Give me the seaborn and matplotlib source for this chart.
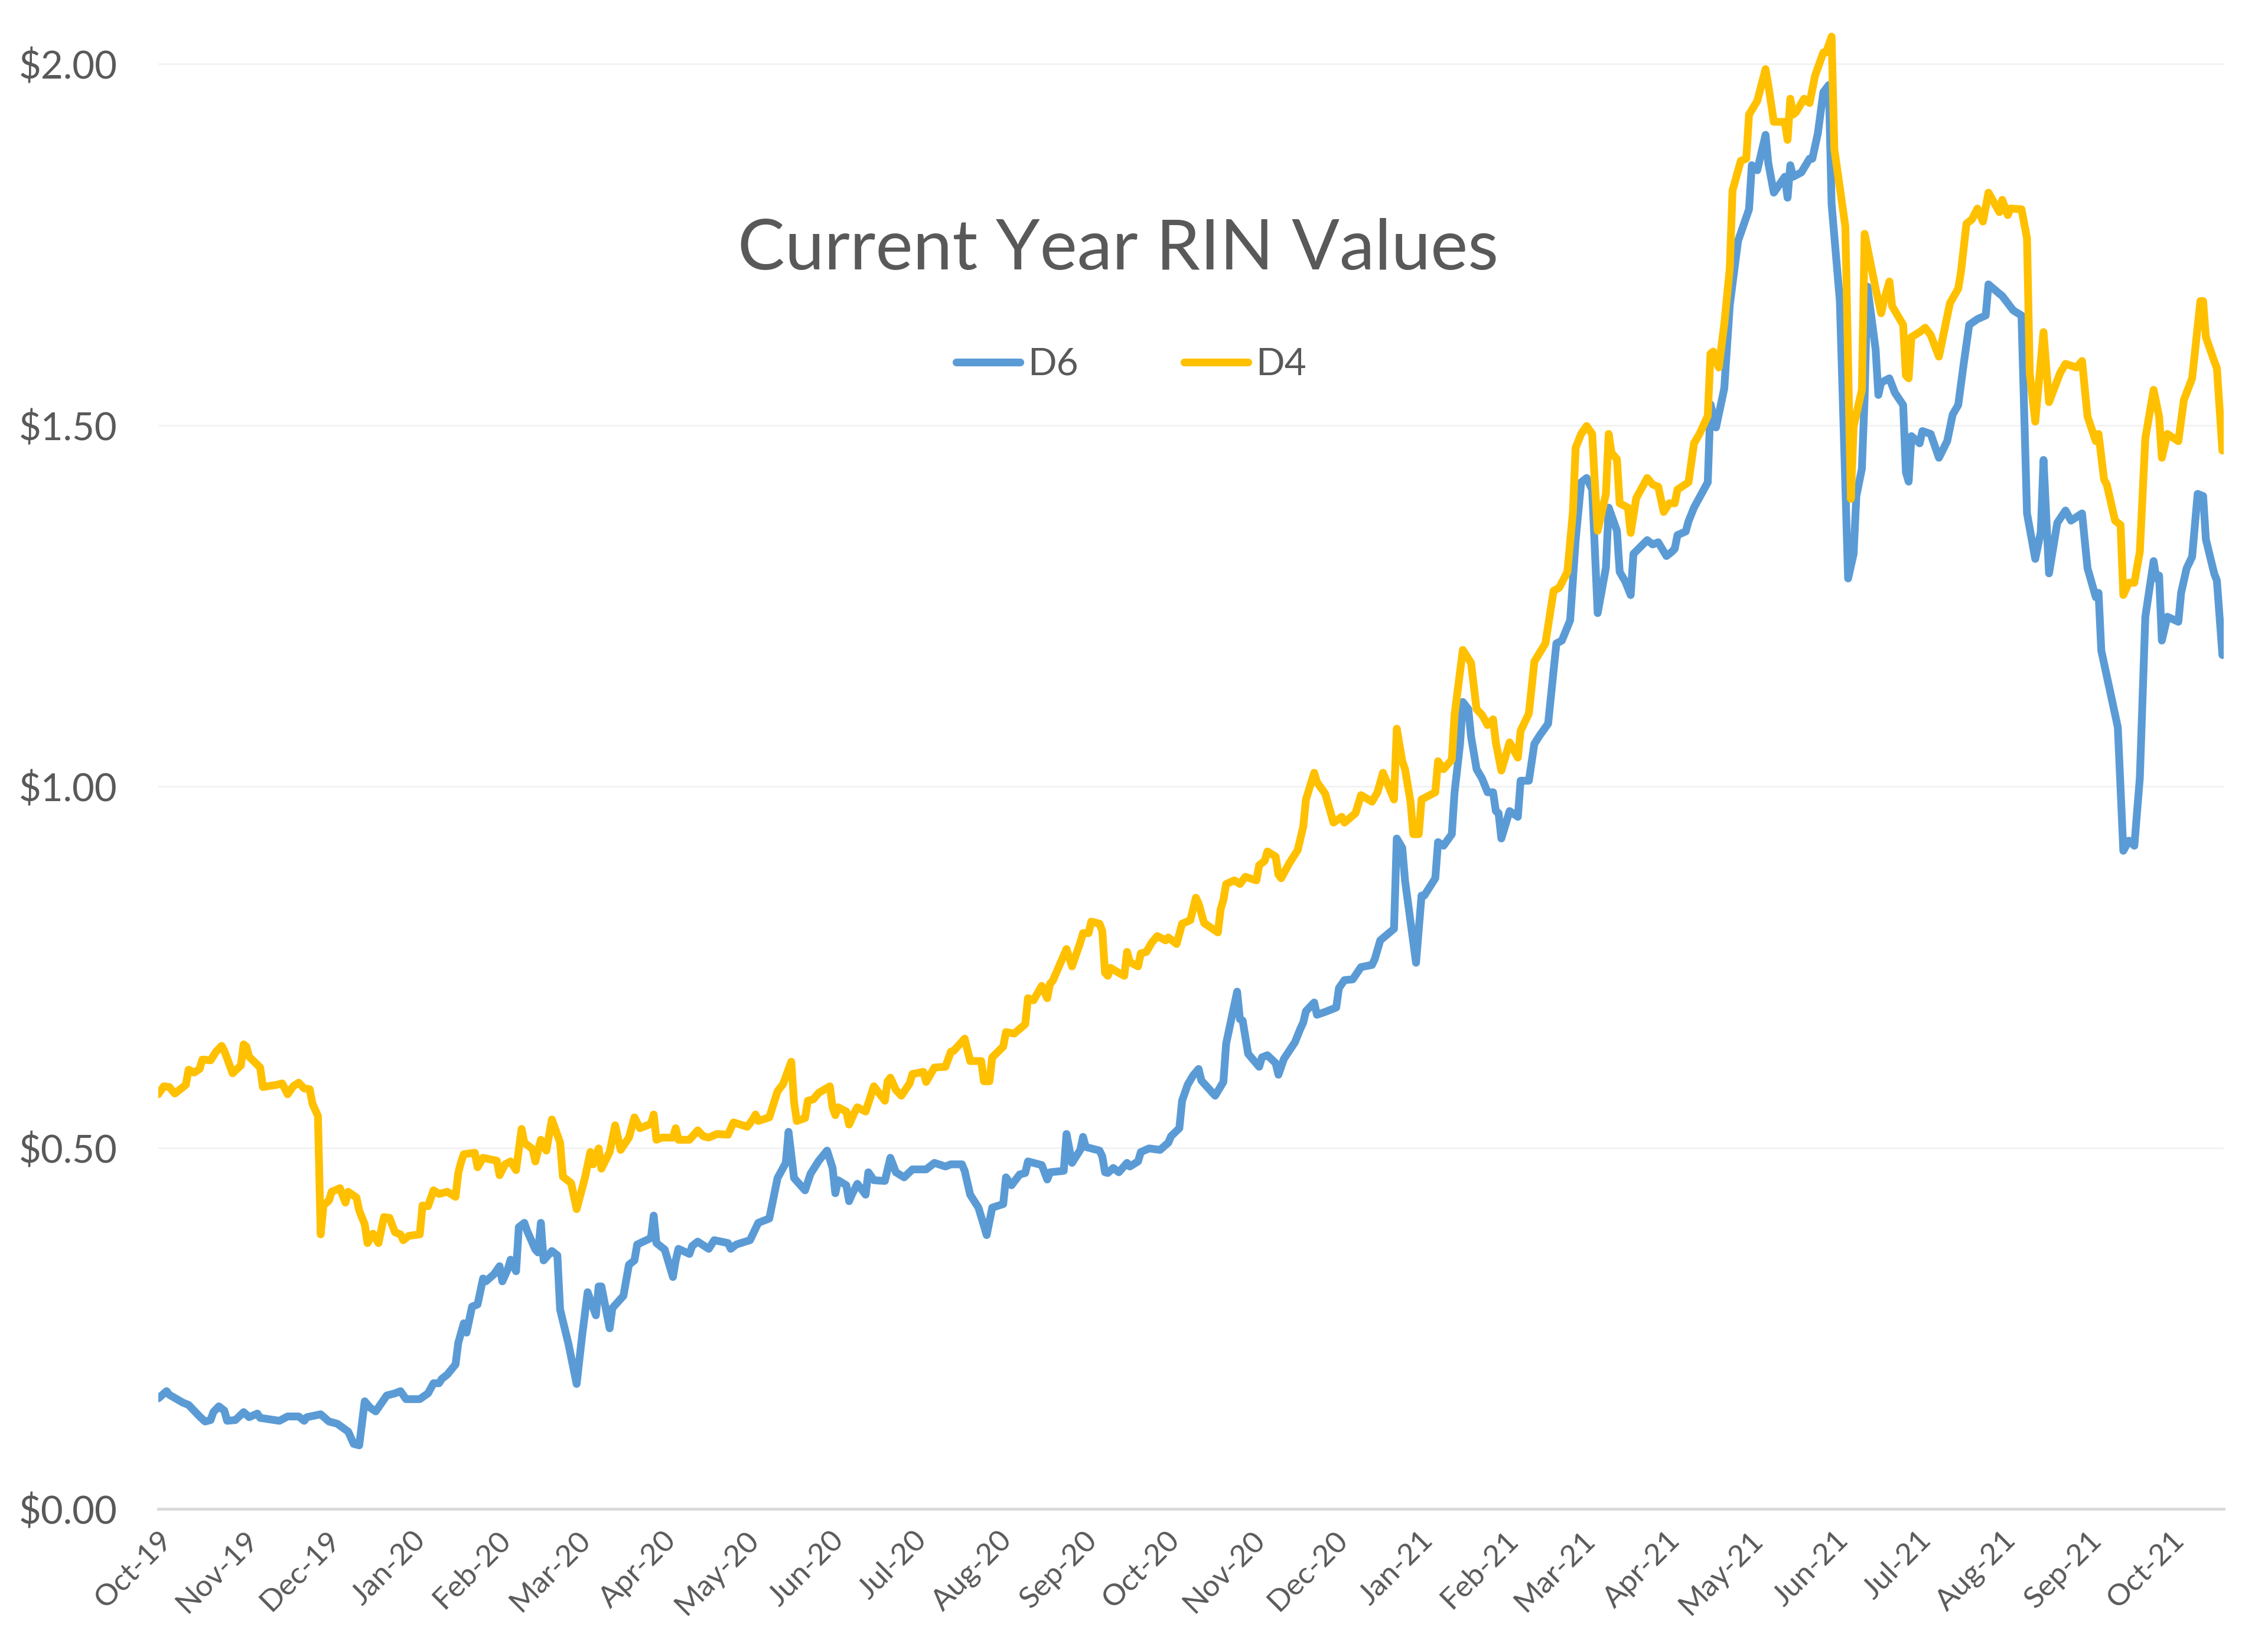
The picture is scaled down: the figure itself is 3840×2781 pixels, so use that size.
import pandas as pd
import seaborn as sns
import matplotlib
matplotlib.use('Agg')
import matplotlib.pyplot as plt
import matplotlib.dates as mdates
from matplotlib.ticker import FuncFormatter

# days counted from 1 Oct 2019, values in $ per RIN
start = pd.Timestamp('2019-10-01')

d6_days = [0, 3, 4, 9, 11, 13, 15, 17, 19, 20, 22, 24, 25, 28, 31, 33, 36, 37, 44, 47,
           51, 53, 54, 59, 62, 65, 69, 71, 73, 75, 77, 79, 83, 86, 88, 90, 95, 98, 100, 102,
           103, 105, 108, 109, 111, 112, 114, 116, 118, 119, 122, 124, 125, 127, 128, 130, 131, 133, 134, 137,
           138, 139, 140, 143, 145, 146, 149, 152, 154, 156, 159, 160, 161, 164, 165, 169, 171, 173, 174, 179,
           180, 181, 184, 187, 188, 189, 193, 194, 196, 200, 202, 207, 208, 210, 215, 218, 222, 225, 228, 229,
           231, 235, 237, 240, 243, 245, 246, 247, 250, 251, 252, 254, 257, 258, 260, 264, 266, 268, 271, 274,
           279, 282, 286, 288, 292, 293, 295, 298, 300, 301, 303, 307, 308, 310, 313, 315, 316, 321, 323, 324,
           329, 330, 332, 335, 336, 337, 342, 343, 344, 345, 347, 349, 352, 353, 356, 357, 360, 364, 367, 368,
           371, 372, 374, 376, 378, 379, 384, 387, 388, 392, 393, 394, 396, 400, 401, 403, 406, 407, 409, 413,
           415, 416, 417, 420, 421, 424, 428, 429, 431, 434, 437, 441, 442, 444, 449, 450, 452, 453, 457, 459,
           460, 464, 465, 467, 470, 471, 473, 474, 476, 477, 479, 481, 483, 485, 486, 487, 488, 491, 494, 495,
           498, 500, 502, 505, 508, 510, 513, 515, 517, 519, 521, 523, 526, 527, 530, 531, 533, 535, 536, 541,
           543, 545, 548, 550, 551, 552, 555, 556, 558, 563, 564, 566, 569, 571, 574, 578, 579, 581, 584, 585,
           587, 591, 592, 593, 594, 597, 600, 601, 603, 605, 607, 608, 611, 614, 616, 617, 619, 620, 621, 624,
           625, 626, 629, 631, 634, 635, 636, 637, 640, 641, 644, 647, 650, 652, 654, 656, 658, 661, 664, 665,
           669, 670, 674, 677, 679, 682, 684, 685, 687, 690, 693, 695, 699, 701, 704, 705, 706, 712, 714, 716,
           718, 720, 722, 725, 726, 727, 728, 730, 734, 735, 737, 739, 741, 743, 744, 747, 748, 750]
d6_vals = [0.153, 0.163, 0.158, 0.147, 0.144, 0.136, 0.128, 0.121, 0.123, 0.134, 0.142, 0.136, 0.122, 0.123, 0.134, 0.127, 0.132, 0.126, 0.122, 0.128,
           0.128, 0.122, 0.127, 0.131, 0.121, 0.118, 0.107, 0.090, 0.088, 0.149, 0.140, 0.135, 0.157, 0.160, 0.163, 0.152, 0.152, 0.160, 0.174, 0.174,
           0.180, 0.186, 0.200, 0.230, 0.257, 0.244, 0.280, 0.283, 0.319, 0.315, 0.325, 0.336, 0.315, 0.332, 0.345, 0.329, 0.390, 0.396, 0.385, 0.359,
           0.355, 0.396, 0.344, 0.357, 0.351, 0.276, 0.229, 0.173, 0.240, 0.300, 0.268, 0.308, 0.308, 0.250, 0.278, 0.295, 0.338, 0.344, 0.366, 0.375,
           0.406, 0.368, 0.359, 0.321, 0.344, 0.360, 0.353, 0.364, 0.370, 0.360, 0.372, 0.368, 0.360, 0.366, 0.372, 0.396, 0.402, 0.458, 0.479, 0.522,
           0.458, 0.441, 0.464, 0.482, 0.496, 0.472, 0.437, 0.455, 0.448, 0.426, 0.435, 0.450, 0.435, 0.466, 0.455, 0.454, 0.486, 0.466, 0.459, 0.470,
           0.470, 0.479, 0.474, 0.477, 0.477, 0.468, 0.435, 0.417, 0.392, 0.379, 0.417, 0.422, 0.459, 0.448, 0.463, 0.465, 0.481, 0.476, 0.456, 0.466,
           0.468, 0.519, 0.479, 0.497, 0.515, 0.501, 0.496, 0.488, 0.466, 0.465, 0.472, 0.466, 0.479, 0.474, 0.481, 0.494, 0.499, 0.497, 0.507, 0.516,
           0.527, 0.565, 0.587, 0.600, 0.609, 0.593, 0.572, 0.591, 0.644, 0.716, 0.678, 0.676, 0.630, 0.612, 0.625, 0.628, 0.617, 0.601, 0.623, 0.646,
           0.665, 0.673, 0.689, 0.701, 0.684, 0.688, 0.694, 0.721, 0.732, 0.733, 0.750, 0.753, 0.761, 0.787, 0.803, 0.928, 0.915, 0.870, 0.756, 0.849,
           0.849, 0.873, 0.923, 0.918, 0.934, 0.992, 1.059, 1.117, 1.107, 1.069, 1.024, 1.011, 0.992, 0.992, 0.966, 0.963, 0.928, 0.966, 0.958, 1.008,
           1.008, 1.059, 1.071, 1.087, 1.198, 1.202, 1.230, 1.341, 1.421, 1.427, 1.411, 1.240, 1.303, 1.386, 1.354, 1.297, 1.284, 1.265, 1.322, 1.341,
           1.335, 1.338, 1.319, 1.325, 1.329, 1.348, 1.353, 1.367, 1.386, 1.421, 1.529, 1.497, 1.551, 1.666, 1.755, 1.799, 1.860, 1.853, 1.902, 1.863,
           1.822, 1.844, 1.815, 1.860, 1.844, 1.850, 1.869, 1.869, 1.904, 1.961, 1.971, 1.806, 1.672, 1.288, 1.322, 1.402, 1.440, 1.539, 1.692, 1.605,
           1.542, 1.559, 1.565, 1.545, 1.528, 1.435, 1.422, 1.485, 1.475, 1.492, 1.488, 1.455, 1.478, 1.515, 1.528, 1.585, 1.639, 1.647, 1.652, 1.695,
           1.682, 1.679, 1.659, 1.652, 1.378, 1.315, 1.352, 1.452, 1.295, 1.365, 1.382, 1.368, 1.378, 1.302, 1.262, 1.268, 1.188, 1.082, 0.911, 0.925,
           0.918, 1.012, 1.235, 1.312, 1.288, 1.292, 1.202, 1.235, 1.228, 1.268, 1.302, 1.318, 1.405, 1.402, 1.342, 1.295, 1.285, 1.182]

d4_days = [0, 2, 4, 6, 10, 11, 13, 15, 16, 19, 21, 23, 24, 27, 30, 31, 32, 33, 37, 38,
           43, 45, 47, 49, 51, 53, 55, 56, 58, 59, 60, 62, 63, 66, 68, 69, 72, 73, 75, 76,
           78, 80, 82, 84, 86, 88, 89, 91, 95, 96, 98, 100, 102, 105, 108, 109, 110, 111, 115, 116,
           118, 123, 124, 126, 128, 130, 132, 133, 136, 137, 139, 141, 143, 146, 147, 150, 152, 155, 157, 158,
           160, 161, 164, 166, 168, 171, 173, 175, 179, 180, 181, 183, 187, 188, 189, 193, 196, 198, 200, 203,
           207, 209, 214, 216, 217, 218, 222, 225, 227, 230, 231, 232, 235, 236, 238, 240, 244, 245, 246, 247,
           250, 251, 253, 254, 257, 260, 264, 265, 266, 268, 270, 273, 274, 278, 279, 282, 286, 288, 289, 293,
           295, 299, 300, 302, 303, 307, 308, 311, 315, 316, 318, 321, 323, 324, 325, 330, 332, 335, 336, 338,
           339, 342, 343, 344, 345, 346, 349, 351, 352, 353, 356, 357, 359, 361, 363, 366, 367, 370, 372, 375,
           377, 378, 380, 385, 386, 387, 388, 391, 393, 395, 399, 400, 402, 403, 406, 407, 408, 411, 414, 416,
           417, 420, 421, 424, 427, 430, 431, 435, 437, 441, 443, 445, 449, 450, 452, 453, 455, 456, 458, 459,
           464, 465, 467, 470, 471, 474, 477, 479, 481, 483, 485, 486, 488, 491, 494, 495, 498, 500, 504, 507,
           509, 512, 514, 515, 517, 519, 521, 522, 523, 526, 527, 528, 530, 531, 534, 535, 537, 541, 543, 545,
           547, 549, 551, 552, 556, 558, 560, 563, 564, 565, 567, 569, 571, 572, 575, 577, 578, 581, 584, 585,
           587, 591, 592, 593, 594, 595, 598, 600, 602, 605, 606, 608, 609, 613, 615, 616, 619, 620, 624, 626,
           627, 629, 630, 634, 635, 636, 637, 640, 642, 644, 647, 651, 654, 655, 657, 659, 661, 663, 665, 669,
           670, 672, 673, 677, 679, 680, 682, 685, 687, 691, 693, 697, 699, 701, 704, 705, 707, 708, 711, 713,
           714, 716, 718, 720, 722, 725, 727, 728, 730, 734, 736, 739, 742, 743, 744, 747, 748, 750]
d4_vals = [0.574, 0.585, 0.584, 0.575, 0.587, 0.608, 0.604, 0.609, 0.622, 0.621, 0.633, 0.641, 0.634, 0.603, 0.614, 0.643, 0.640, 0.626, 0.611, 0.584,
           0.587, 0.589, 0.574, 0.585, 0.590, 0.582, 0.581, 0.561, 0.544, 0.380, 0.420, 0.427, 0.439, 0.444, 0.424, 0.439, 0.431, 0.413, 0.394, 0.368,
           0.381, 0.368, 0.404, 0.403, 0.383, 0.380, 0.372, 0.378, 0.380, 0.420, 0.419, 0.441, 0.436, 0.439, 0.432, 0.465, 0.480, 0.491, 0.493, 0.473,
           0.486, 0.482, 0.462, 0.477, 0.481, 0.469, 0.526, 0.507, 0.498, 0.481, 0.511, 0.496, 0.539, 0.507, 0.460, 0.451, 0.415, 0.458, 0.494, 0.477,
           0.499, 0.471, 0.494, 0.531, 0.497, 0.514, 0.542, 0.527, 0.533, 0.546, 0.511, 0.514, 0.514, 0.527, 0.511, 0.511, 0.524, 0.516, 0.514, 0.519,
           0.518, 0.535, 0.529, 0.539, 0.546, 0.537, 0.542, 0.578, 0.588, 0.619, 0.563, 0.537, 0.541, 0.565, 0.567, 0.576, 0.585, 0.556, 0.545, 0.556,
           0.550, 0.532, 0.549, 0.556, 0.550, 0.585, 0.565, 0.592, 0.597, 0.580, 0.572, 0.589, 0.602, 0.605, 0.591, 0.611, 0.612, 0.633, 0.634, 0.651,
           0.620, 0.620, 0.592, 0.592, 0.625, 0.640, 0.660, 0.658, 0.671, 0.707, 0.704, 0.724, 0.707, 0.727, 0.731, 0.775, 0.751, 0.784, 0.797, 0.797,
           0.813, 0.810, 0.800, 0.742, 0.738, 0.749, 0.742, 0.738, 0.771, 0.757, 0.751, 0.769, 0.771, 0.784, 0.793, 0.787, 0.791, 0.782, 0.810, 0.815,
           0.846, 0.838, 0.811, 0.798, 0.830, 0.843, 0.865, 0.870, 0.865, 0.875, 0.870, 0.891, 0.897, 0.910, 0.903, 0.878, 0.873, 0.894, 0.912, 0.944,
           0.982, 1.019, 1.006, 0.990, 0.950, 0.958, 0.950, 0.963, 0.988, 0.979, 0.992, 1.019, 0.982, 1.080, 1.035, 1.024, 0.979, 0.934, 0.934, 0.982,
           0.992, 1.035, 1.024, 1.037, 1.099, 1.189, 1.171, 1.107, 1.099, 1.085, 1.093, 1.061, 1.022, 1.061, 1.040, 1.077, 1.101, 1.173, 1.198, 1.271,
           1.275, 1.297, 1.380, 1.469, 1.488, 1.499, 1.488, 1.418, 1.354, 1.405, 1.488, 1.462, 1.453, 1.392, 1.386, 1.351, 1.399, 1.427, 1.418, 1.415,
           1.380, 1.392, 1.392, 1.411, 1.421, 1.475, 1.488, 1.513, 1.599, 1.602, 1.580, 1.640, 1.717, 1.825, 1.866, 1.869, 1.930, 1.949, 1.993, 1.971,
           1.920, 1.920, 1.895, 1.952, 1.930, 1.933, 1.952, 1.946, 1.984, 2.016, 2.016, 2.038, 1.882, 1.775, 1.398, 1.498, 1.549, 1.765, 1.689, 1.655,
           1.672, 1.699, 1.665, 1.639, 1.569, 1.565, 1.622, 1.629, 1.635, 1.625, 1.595, 1.669, 1.689, 1.712, 1.779, 1.785, 1.800, 1.782, 1.822, 1.795,
           1.812, 1.791, 1.800, 1.799, 1.759, 1.572, 1.505, 1.629, 1.532, 1.572, 1.585, 1.580, 1.589, 1.512, 1.478, 1.488, 1.425, 1.418, 1.368, 1.362,
           1.265, 1.282, 1.282, 1.325, 1.482, 1.549, 1.512, 1.455, 1.488, 1.478, 1.535, 1.565, 1.672, 1.672, 1.622, 1.589, 1.579, 1.465]

df = pd.concat([
    pd.DataFrame({'date': start + pd.to_timedelta(d6_days, unit='D'), 'value': d6_vals, 'series': 'D6'}),
    pd.DataFrame({'date': start + pd.to_timedelta(d4_days, unit='D'), 'value': d4_vals, 'series': 'D4'}),
], ignore_index=True)

sns.set_style('white')
plt.rcParams['font.family'] = ['Lato', 'DejaVu Sans']

grey = '#595959'
fig = plt.figure(figsize=(38.4, 27.81), dpi=100)
ax = fig.add_axes([0.0698, 0.0816, 0.9107, 0.9058])

sns.lineplot(data=df, x='date', y='value', hue='series',
             palette={'D6': '#5B9BD5', 'D4': '#FFC000'},
             estimator=None, sort=False, linewidth=9.5, ax=ax)
for line in ax.lines:
    line.set_solid_joinstyle('round')
    line.set_solid_capstyle('round')

ax.set_xlim(start, start + pd.Timedelta(days=750.5))
ax.set_ylim(0, 2.06)
ax.set_yticks([0, 0.5, 1.0, 1.5, 2.0])
ax.yaxis.set_major_formatter(FuncFormatter(lambda v, p: '${:.2f}'.format(v)))
ax.xaxis.set_major_locator(mdates.MonthLocator())
ax.xaxis.set_major_formatter(mdates.DateFormatter('%b-%y'))
ax.set_xlabel('')
ax.set_ylabel('')

ax.grid(axis='y', color='#F2F2F2', linewidth=2)
ax.grid(axis='x', visible=False)
for s in ['top', 'right', 'left']:
    ax.spines[s].set_visible(False)
ax.spines['bottom'].set_color('#D9D9D9')
ax.spines['bottom'].set_linewidth(3.5)

ax.tick_params(axis='y', length=0, pad=50, labelsize=47, labelcolor=grey)
ax.tick_params(axis='x', direction='out', length=13, width=2, color='#D9D9D9',
               pad=8, labelsize=37, labelcolor=grey)
for lab in ax.get_xticklabels():
    lab.set_rotation(45)
    lab.set_ha('right')
    lab.set_rotation_mode('anchor')

ax.text(0.4647, 0.846, 'Current Year RIN Values', transform=ax.transAxes,
        ha='center', va='center', fontsize=86, color=grey)

sns.move_legend(ax, 'center', bbox_to_anchor=(0.471, 0.769), ncol=2, frameon=False,
                title=None, fontsize=46, handlelength=1.7, handletextpad=0.2,
                columnspacing=2.8, labelcolor=grey)

fig.savefig('out.png', dpi=100, facecolor='white')
